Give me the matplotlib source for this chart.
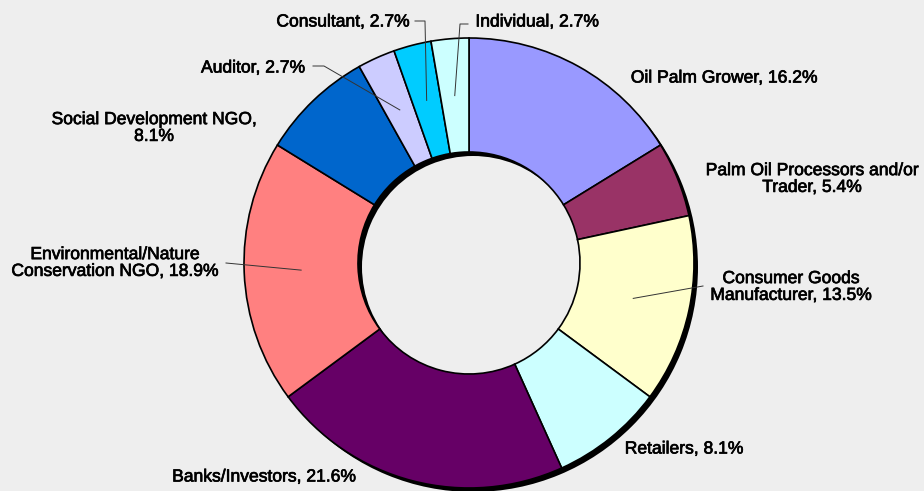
import numpy as np
import matplotlib
matplotlib.use("Agg")
import matplotlib.pyplot as plt
import matplotlib.patheffects as pe
from matplotlib.patches import Wedge

plt.rcParams["font.family"] = ["Liberation Sans", "DejaVu Sans"]

# data (clockwise from 12 o'clock)
categories = [
    "Oil Palm Grower", "Palm Oil Processors and/or\nTrader", "Consumer Goods\nManufacturer",
    "Retailers", "Banks/Investors", "Environmental/Nature\nConservation NGO",
    "Social Development NGO,\n", "Auditor", "Consultant", "Individual",
]
shares = [16.2, 5.4, 13.5, 8.1, 21.6, 18.9, 8.1, 2.7, 2.7, 2.7]
colors = ["#9999ff", "#993366", "#ffffcc", "#ccffff", "#660066",
          "#ff8080", "#0066cc", "#ccccff", "#00ccff", "#ccffff"]

# label layout in pixel space (x, y from top)
label_pos = [(724, 78), (812, 179), (791, 287), (684, 449), (264, 477),
             (115, 263), (154, 128), (253, 68), (343, 22), (537, 22)]
# leader routes: slice index -> elbow points (pixel space) ending near the text
leaders = {
    2: [(703, 286)],
    5: [(226, 263)],
    7: [(324, 66), (313, 66)],
    8: [(425, 21), (415, 21)],
    9: [(460, 24), (468, 24)],
}

W, H = 924, 491
CX, CY = 469, H - 263
R_OUT, R_IN = 225, 111

fig = plt.figure(figsize=(W / 100, H / 100), dpi=100, facecolor="#eeeeee")
ax = fig.add_axes([0, 0, 1, 1])
ax.set_facecolor("#eeeeee")

# drop shadow of the ring
ax.add_patch(Wedge((CX + 4, CY - 4), R_OUT, 0, 360, width=R_OUT - R_IN,
                   facecolor="black", edgecolor="none", zorder=1))

wedges, _ = ax.pie(shares, colors=colors, startangle=90, counterclock=False,
                   center=(CX, CY), radius=R_OUT, frame=True,
                   wedgeprops=dict(width=R_OUT - R_IN, edgecolor="black", linewidth=1.2))
for w in wedges:
    w.set_zorder(2)
ax.set_xlim(0, W)
ax.set_ylim(0, H)
ax.axis("off")

thick = [pe.withStroke(linewidth=0.5, foreground="black")]
for i, (w, cat, val) in enumerate(zip(wedges, categories, shares)):
    if cat.endswith(",\n"):
        txt = f"{cat}{val}%"
    else:
        txt = f"{cat}, {val}%"
    lx, ly = label_pos[i]
    ax.text(lx, H - ly, txt, ha="center", va="center", fontsize=12.6,
            color="black", linespacing=1.15, zorder=4, path_effects=thick)
    if i in leaders:
        mid = np.deg2rad((w.theta1 + w.theta2) / 2)
        rm = (R_OUT + R_IN) / 2
        xs = [CX + rm * np.cos(mid)] + [p[0] for p in leaders[i]]
        ys = [CY + rm * np.sin(mid)] + [H - p[1] for p in leaders[i]]
        ax.plot(xs, ys, color="#333333", linewidth=0.7, zorder=3)

fig.savefig("out.png", dpi=100, facecolor="#eeeeee")
